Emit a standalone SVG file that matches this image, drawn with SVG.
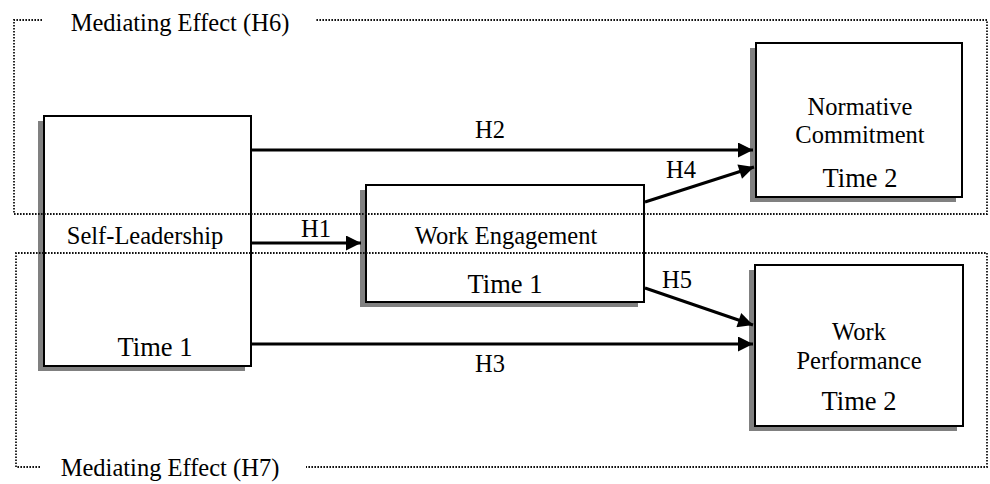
<svg xmlns="http://www.w3.org/2000/svg" width="990" height="484" viewBox="0 0 990 484">
<defs>
<style>
text{font-family:"Liberation Serif","Times New Roman",serif;fill:#000;text-anchor:middle}
.lbl{font-size:24.5px}
.tm{font-size:26.5px}
.dot{fill:none;stroke:#111;stroke-width:1.8;stroke-dasharray:1.6,1.4}
.box{fill:#fff;stroke:#000;stroke-width:2}
.sh{fill:#808080}
.arr{fill:none;stroke:#000;stroke-width:3}
</style>
<marker id="ah" viewBox="0 0 10 10" refX="10" refY="5" markerWidth="5.5" markerHeight="5" markerUnits="strokeWidth" orient="auto">
<path d="M0,0 L10,5 L0,10 Z" fill="#000"/>
</marker>
</defs>
<rect width="990" height="484" fill="#fff"/>
<g id="self-leadership">
<rect class="sh" x="38" y="121" width="207" height="250"/>
<rect class="box" x="44" y="116" width="207" height="250"/>
<text class="lbl" x="145" y="244">Self-Leadership</text>
<text class="tm" x="155" y="356">Time 1</text>
</g>
<g id="work-engagement">
<rect class="sh" x="360" y="190" width="278" height="117"/>
<rect class="box" x="366" y="185" width="278" height="117"/>
<text class="lbl" x="506" y="244">Work Engagement</text>
<text class="tm" x="505" y="293">Time 1</text>
</g>
<g id="normative-commitment">
<rect class="sh" x="750" y="48" width="206" height="154"/>
<rect class="box" x="756" y="43" width="206" height="154"/>
<text class="lbl" x="860" y="115">Normative</text>
<text class="lbl" x="860" y="143">Commitment</text>
<text class="tm" x="860" y="187">Time 2</text>
</g>
<g id="work-performance">
<rect class="sh" x="749" y="270" width="208" height="161"/>
<rect class="box" x="755" y="265" width="208" height="161"/>
<text class="lbl" x="859" y="340">Work</text>
<text class="lbl" x="859" y="369">Performance</text>
<text class="tm" x="859" y="410">Time 2</text>
</g>
<g id="connectors">
<line class="arr" x1="251" y1="150" x2="753" y2="150" marker-end="url(#ah)"/>
<line class="arr" x1="645" y1="202" x2="754" y2="167" marker-end="url(#ah)"/>
<line class="arr" x1="251" y1="243" x2="361" y2="243" marker-end="url(#ah)"/>
<line class="arr" x1="645" y1="288" x2="753" y2="325" marker-end="url(#ah)"/>
<line class="arr" x1="251" y1="344" x2="753" y2="344" marker-end="url(#ah)"/>
<text class="lbl" x="490" y="138">H2</text>
<text class="lbl" x="681" y="178">H4</text>
<text class="lbl" x="316" y="237">H1</text>
<text class="lbl" x="677" y="288">H5</text>
<text class="lbl" x="490" y="372">H3</text>
</g>
<g id="mediation-frames">
<path class="dot" d="M42,20 H14 V214 H987 V20 H316"/>
<text class="lbl" x="180" y="31">Mediating Effect (H6)</text>
<path class="dot" d="M40,467 H16 V253 H987 V467 H306"/>
<text class="lbl" x="170" y="476">Mediating Effect (H7)</text>
</g>
</svg>
